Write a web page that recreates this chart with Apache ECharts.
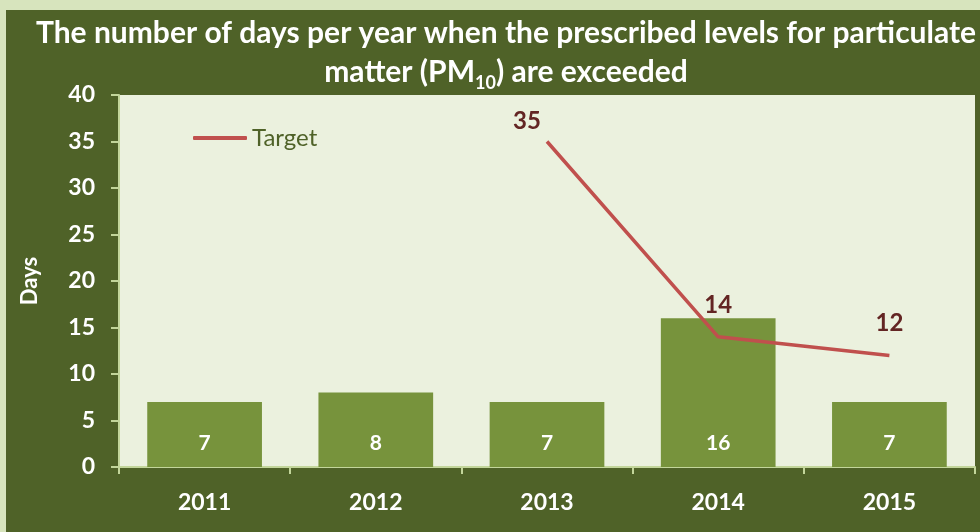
<!DOCTYPE html>
<html>
<head>
<meta charset="utf-8">
<script src="https://cdn.jsdelivr.net/npm/echarts@6/dist/echarts.min.js"></script>
<style>
  html, body { margin: 0; padding: 0; background: #d7e4bd; }
  #chart { width: 980px; height: 532px; }
</style>
</head>
<body>
<div id="chart"></div>
<script>
// Days above the PM10 limit, with the target line
const years = ['2011', '2012', '2013', '2014', '2015'];
const exceedDays = [7, 8, 7, 16, 7];
const targetDays = [null, null, 35, 14, 12];
const yTicks = { min: 0, max: 40, interval: 5 };

const FONT = 'Lato, "Open Sans", sans-serif';

const chart = echarts.init(document.getElementById('chart'));

// The first target label sits a little left of its point
const targetData = targetDays.map((v, i) => {
  if (v == null) return null;
  return i === 2 ? { value: v, label: { offset: [-20, 12] } } : v;
});

chart.setOption({
  backgroundColor: '#d7e4bd',
  animation: false,
  graphic: [{
    type: 'rect',
    shape: { x: 6, y: 10, width: 974, height: 522 },
    style: { fill: '#4f6228' },
    z: -10
  }],
  title: {
    text: 'The number of days per year when the prescribed levels for particulate\nmatter (PM{sub|10}) are exceeded',
    left: 501,
    top: 9,
    textAlign: 'center',
    textStyle: {
      color: '#ffffff',
      fontFamily: FONT,
      fontWeight: 'bold',
      fontSize: 30,
      lineHeight: 39,
      rich: {
        sub: {
          color: '#ffffff',
          fontFamily: FONT,
          fontWeight: 'bold',
          fontSize: 18,
          verticalAlign: 'bottom',
          padding: [16, 0, 0, 0]
        }
      }
    }
  },
  legend: {
    left: 188,
    top: 121,
    itemWidth: 54,
    itemHeight: 4,
    itemGap: 6,
    icon: 'roundRect',
    textStyle: { color: '#4f6228', fontSize: 24, fontFamily: FONT },
    data: ['Target']
  },
  grid: {
    left: 119,
    right: 5,
    top: 95,
    bottom: 65,
    show: true,
    backgroundColor: '#ebf1de',
    borderWidth: 0
  },
  xAxis: {
    type: 'category',
    data: years,
    axisLine: { lineStyle: { color: '#c3d69b', width: 2 } },
    axisTick: { show: true, length: 7, lineStyle: { color: '#c3d69b', width: 2 } },
    axisLabel: {
      color: '#ffffff',
      fontFamily: FONT,
      fontWeight: 'bold',
      fontSize: 23,
      margin: 24
    }
  },
  yAxis: {
    type: 'value',
    min: yTicks.min,
    max: yTicks.max,
    interval: yTicks.interval,
    name: 'Days',
    nameLocation: 'middle',
    nameGap: 78,
    nameRotate: 90,
    nameTextStyle: { color: '#ffffff', fontFamily: FONT, fontWeight: 'bold', fontSize: 22 },
    splitLine: { show: false },
    axisLine: { show: true, lineStyle: { color: '#c3d69b', width: 2 } },
    axisTick: { show: true, length: 8, lineStyle: { color: '#c3d69b', width: 2 } },
    axisLabel: {
      color: '#ffffff',
      fontFamily: FONT,
      fontWeight: 'bold',
      fontSize: 23,
      margin: 24
    }
  },
  series: [
    {
      name: 'Days',
      type: 'bar',
      data: exceedDays,
      barCategoryGap: '33%',
      itemStyle: { color: '#77933c' },
      label: {
        show: true,
        position: 'insideBottom',
        distance: 13,
        color: '#ffffff',
        fontFamily: FONT,
        fontWeight: 'bold',
        fontSize: 21
      }
    },
    {
      name: 'Target',
      type: 'line',
      data: targetData,
      symbol: 'circle',
      symbolSize: 0,
      showSymbol: true,
      color: '#c0504d',
      itemStyle: { color: '#c0504d' },
      lineStyle: { color: '#c0504d', width: 3.5 },
      label: {
        show: true,
        position: 'top',
        distance: 20,
        color: '#632523',
        fontFamily: FONT,
        fontWeight: 'bold',
        fontSize: 24
      }
    }
  ]
});
</script>
</body>
</html>
